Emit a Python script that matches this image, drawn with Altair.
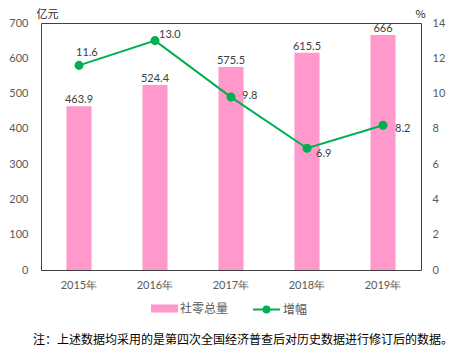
import altair as alt
import pandas as pd

years = ["2015年", "2016年", "2017年", "2018年", "2019年"]
totals = [463.9, 524.4, 575.5, 615.5, 666]
total_labels = ["463.9", "524.4", "575.5", "615.5", "666"]
growth = [11.6, 13.0, 9.8, 6.9, 8.2]
growth_labels = ["11.6", "13.0", "9.8", "6.9", "8.2"]
series_names = ["社零总量", "增幅"]
left_ticks = [0, 100, 200, 300, 400, 500, 600, 700]
right_ticks = [0, 2, 4, 6, 8, 10, 12, 14]
note = "注：上述数据均采用的是第四次全国经济普查后对历史数据进行修订后的数据。"

df = pd.DataFrame({
    "year": years,
    "total": totals,
    "total_label": total_labels,
    "growth": growth,
    "growth_label": growth_labels,
    "s1": [series_names[0]] * 5,
    "s2": [series_names[1]] * 5,
})

PINK = "#FF99CC"
GREEN = "#00B050"
NUM_FONT = "Lato"
CJK = "Noto Sans CJK SC"
LABEL_COLOR = "#595959"

base = alt.Chart(df)

x = alt.X("year:N", sort=years, title=None,
          scale=alt.Scale(paddingInner=0.67, paddingOuter=0.335),
          axis=alt.Axis(labelAngle=0, ticks=False, domain=False, labelPadding=9,
                        labelFont=NUM_FONT, labelFontSize=11, labelColor=LABEL_COLOR))

y_left = alt.Y("total:Q", scale=alt.Scale(domain=[0, 700], nice=False),
               axis=alt.Axis(values=left_ticks, grid=False, ticks=False, domain=False,
                             labelOverlap=False, labelPadding=13, labelFont=NUM_FONT,
                             labelFontSize=11, labelColor=LABEL_COLOR, title="亿元",
                             titleAngle=0, titleAlign="left", titleBaseline="middle",
                             titleX=-5, titleY=-9, titleFont=CJK, titleFontSize=11,
                             titleFontWeight="normal", titleColor="#262626"))

y_right = alt.Y("growth:Q", scale=alt.Scale(domain=[0, 14], nice=False),
                axis=alt.Axis(orient="right", values=right_ticks, grid=False, ticks=False,
                              domain=False, labelOverlap=False, labelPadding=11,
                              labelFont=NUM_FONT, labelFontSize=11, labelColor=LABEL_COLOR,
                              title="%", titleAngle=0, titleAlign="left",
                              titleBaseline="middle", titleX=-6, titleY=-9, titleFont=CJK,
                              titleFontSize=11, titleFontWeight="normal",
                              titleColor="#262626"))

bars = base.mark_bar().encode(
    x=x,
    y=y_left,
    fill=alt.Fill("s1:N", scale=alt.Scale(domain=[series_names[0]], range=[PINK]),
                  legend=alt.Legend(orient="none", legendX=110, legendY=272, title=None,
                                    symbolType="M-1,-0.3H1V0.3H-1Z", symbolSize=729,
                                    symbolStrokeWidth=0, labelFont=CJK, labelFontSize=12,
                                    labelColor=LABEL_COLOR, padding=0, labelOffset=2)),
)

bar_text = base.mark_text(baseline="bottom", dy=-1, font=NUM_FONT, fontSize=11,
                          color="#404040").encode(
    x=x,
    y=y_left,
    text="total_label:N",
)

line = base.mark_line(strokeWidth=2, point=alt.OverlayMarkDef(size=50, filled=True, color=GREEN)).encode(
    x=x,
    y=y_right,
    stroke=alt.Stroke("s2:N", scale=alt.Scale(domain=[series_names[1]], range=[GREEN]),
                      legend=alt.Legend(orient="none", legendX=211, legendY=272, title=None,
                                        symbolType="M-1,0L1,0M0.22,0A0.22,0.22,0,1,1,-0.22,0A0.22,0.22,0,1,1,0.22,0Z",
                                        symbolSize=729, symbolStrokeWidth=2,
                                        symbolFillColor=GREEN, symbolStrokeColor=GREEN,
                                        labelFont=CJK, labelFontSize=12, labelColor=LABEL_COLOR,
                                        padding=0, labelOffset=2)),
)

def gtext(sel, dx, dy, baseline):
    return base.transform_filter(
        alt.FieldOneOfPredicate(field="year", oneOf=sel)
    ).mark_text(align="left", baseline=baseline, dx=dx, dy=dy, font=NUM_FONT,
                fontSize=11, color="#404040").encode(
        x=x,
        y=y_right,
        text="growth_label:N",
    )

g0 = gtext([years[0]], -3, -9, "alphabetic")
g1 = gtext([years[1]], 4, -3, "alphabetic")
g2 = gtext([years[2]], 11, -1, "middle")
g3 = gtext([years[3]], 9, 6, "middle")
g4 = gtext([years[4]], 12, 4, "middle")

note_text = alt.Chart(pd.DataFrame({"t": [note]})).mark_text(
    align="left", baseline="middle", font=CJK, fontSize=12, color="#000000"
).encode(x=alt.value(-8), y=alt.value(317), text="t:N")

left = alt.layer(bars, bar_text)
right = alt.layer(line, g0, g1, g2, g3, g4)

chart = alt.layer(left, right, note_text).resolve_scale(
    y="independent", fill="independent", stroke="independent"
).properties(
    width=380, height=247,
    background="white",
    autosize=alt.AutoSizeParams(type="none"),
    padding={"left": 41, "top": 23, "right": 38, "bottom": 82},
).configure_view(stroke="#404040", strokeWidth=1)

chart.save("out.html", embed_options={"renderer": "svg", "actions": False})
